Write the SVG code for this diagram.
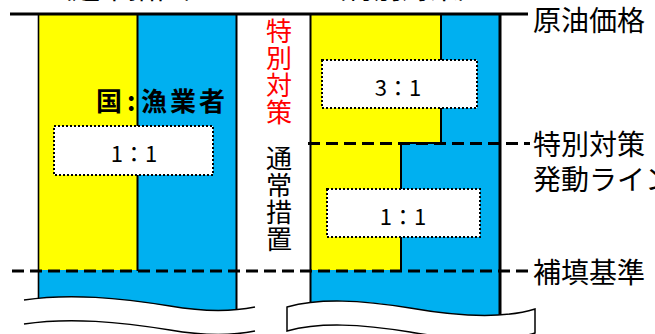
<svg xmlns="http://www.w3.org/2000/svg" width="655" height="334" viewBox="0 0 655 334">
<style>
.jp{font-family:"Noto Sans CJK JP","Noto Sans",sans-serif;fill:#000}
.lbl{font-size:28px}
.vt{font-size:26px;writing-mode:tb;letter-spacing:1px;glyph-orientation-vertical:0}
.ratio{font-size:22px;text-anchor:middle;font-family:"Noto Sans CJK JP","Liberation Sans",sans-serif}
.yel{fill:#FFFF00}
.blu{fill:#00B0F0}
.edge{stroke:#000;stroke-width:2;fill:none}
.dot{fill:#fff;stroke:#000;stroke-width:2;stroke-dasharray:2 2}
.dash{stroke:#000;stroke-width:3;stroke-dasharray:12 6;fill:none}
.wave{stroke:#000;stroke-width:1.5;fill:none}
</style>
<rect width="655" height="334" fill="#fff"/>

<!-- cut-off headings -->
<text class="jp lbl" x="128" y="-1.5" text-anchor="middle">（通常措置）</text>
<text class="jp lbl" x="402" y="-1.5" text-anchor="middle">（特別対策）</text>

<g id="col-normal">
  <rect class="yel" x="38" y="14" width="100" height="256"/>
  <rect class="blu" x="138" y="14" width="99" height="256"/>
  <rect class="blu" x="38" y="270" width="199" height="50"/>
  <line class="edge" x1="137.5" y1="14" x2="137.5" y2="271"/>
  <line x1="38.5" y1="14" x2="38.5" y2="310" stroke="#000" stroke-width="1.6"/>
  <line class="edge" x1="236.5" y1="14" x2="236.5" y2="320"/>
  <path d="M24,300 C70,293 120,298 170,306 C205,312 230,312 255,307 L255,334 L24,334 Z" fill="#fff"/>
  <path class="wave" d="M24,300 C70,293 120,298 170,306 C205,312 230,312 255,307"/>
  <path class="wave" d="M24,324 C70,317 120,322 170,330 C205,336 230,336 255,331"/>
</g>

<g id="col-special">
  <polygon class="yel" points="310,14 441,14 441,143 401,143 401,270 310,270"/>
  <polygon class="blu" points="441,14 500,14 500,270 401,270 401,143 441,143"/>
  <rect class="blu" x="310" y="270" width="190" height="55"/>
  <polyline class="edge" points="441,14 441,143 401,143 401,271"/>
  <line class="edge" x1="310.5" y1="14" x2="310.5" y2="320"/>
  <line x1="500" y1="14" x2="500" y2="325" stroke="#000" stroke-width="3"/>
  <path d="M287,307 C320,298 360,300 410,308 C450,315 500,320 535,309 L535,334 L287,334 Z" fill="#fff"/>
  <path d="M287,307 C320,298 360,300 410,308 C450,315 500,320 535,309 L535,333 C500,344 450,339 410,332 C360,324 320,322 287,331 Z" fill="#fff" stroke="#000" stroke-width="1.5"/>
</g>

<g id="connectors">
  <line x1="10" y1="14" x2="528" y2="14" stroke="#000" stroke-width="3"/>
  <line class="dash" x1="308" y1="143.5" x2="530" y2="143.5"/>
  <line class="dash" x1="12" y1="271" x2="530" y2="271"/>
</g>

<g id="box-normal-ratio">
  <rect class="dot" x="54" y="126" width="159" height="49"/>
  <text class="ratio" x="134" y="162">1：1</text>
</g>
<g id="box-special-high">
  <rect class="dot" x="322" y="60" width="155" height="48"/>
  <text class="ratio" x="398" y="96">3：1</text>
</g>
<g id="box-special-low">
  <rect class="dot" x="327" y="189" width="153" height="48"/>
  <text class="ratio" x="403" y="225">1：1</text>
</g>

<g id="label-share">
  <text class="jp" font-size="26" font-weight="bold" y="111"><tspan x="96">国</tspan><tspan x="127">:</tspan><tspan x="141">漁</tspan><tspan x="170">業</tspan><tspan x="199">者</tspan></text>
</g>

<g id="label-vertical">
  <text class="jp vt" x="279" y="18" style="fill:#FF0000">特別対策</text>
  <text class="jp vt" x="279" y="145">通常措置</text>
</g>

<g id="label-price">
  <text class="jp lbl" x="533" y="31">原油価格</text>
</g>
<g id="label-trigger">
  <text class="jp lbl" x="533" y="155">特別対策</text>
  <text class="jp lbl" x="533" y="190">発動ライン</text>
</g>
<g id="label-base">
  <text class="jp lbl" x="533" y="283">補填基準</text>
</g>
</svg>
